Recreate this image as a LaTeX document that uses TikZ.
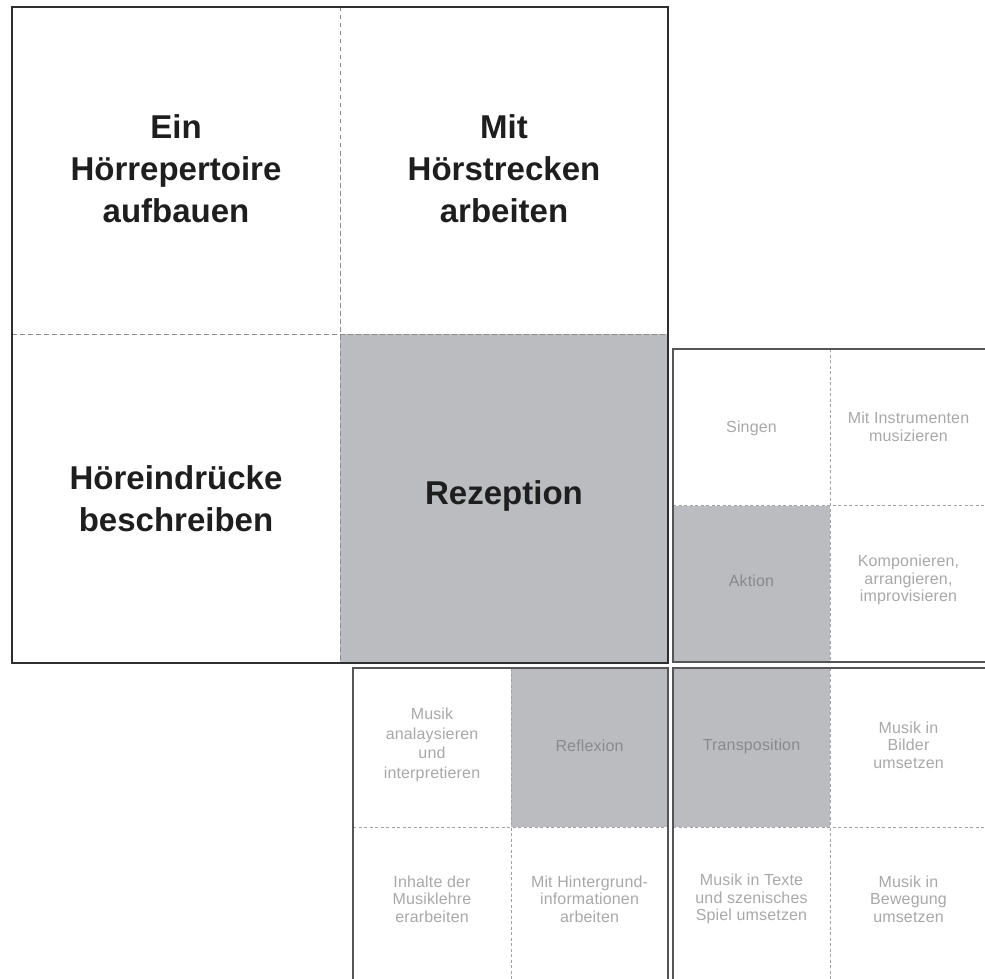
\documentclass[tikz,border=0pt]{standalone}
\usepackage{fontspec}
\setmainfont{Liberation Sans}
\newfontfamily\bigfont{Liberation Sans}
\newfontfamily\smallfont[LetterSpace=1]{Liberation Sans}
\definecolor{cellgray}{HTML}{BBBCC0}
\definecolor{bigframecol}{HTML}{2E2E2E}
\definecolor{smallframecol}{HTML}{555555}
\definecolor{dashcol}{HTML}{8A8A8A}
\definecolor{lighttext}{HTML}{A8A8A8}
\definecolor{shadetext}{HTML}{8A8A8D}
\definecolor{bigtextcol}{HTML}{1E1E1E}
\begin{document}
\begin{tikzpicture}[x=1pt,y=-1pt,
  bigtext/.style={font=\bigfont\bfseries\fontsize{33}{42}\selectfont, align=center, text=bigtextcol, inner sep=0pt},
  smalltext/.style={font=\smallfont\fontsize{16}{17.5}\selectfont, align=center, text=lighttext, inner sep=0pt},
  shadedtext/.style={smalltext, text=shadetext},
  bigdash/.style={draw=dashcol, line width=0.8pt, dash pattern=on 4.5pt off 3.5pt},
  smalldash/.style={draw=dashcol!80, line width=0.6pt, dash pattern=on 3pt off 2.5pt},
  bigframe/.style={draw=bigframecol, line width=1.8pt},
  smallframe/.style={draw=smallframecol, line width=1.1pt},
  shade/.style={fill=cellgray}
]
\useasboundingbox (0,0) rectangle (985,979);
\clip (0,0) rectangle (985,979);

% shaded cells
\fill[shade] (340,334) rectangle (668,663);
\fill[shade] (673,505.5) rectangle (830,662);
\fill[shade] (511,668) rectangle (668,827);
\fill[shade] (673,668) rectangle (830,827);

% dashed dividers
\draw[bigdash] (340,7) -- (340,663);
\draw[bigdash] (12,334) -- (668,334);
\draw[smalldash] (830,349) -- (830,662);
\draw[smalldash] (673,505.5) -- (990,505.5);
\draw[smalldash] (511,668) -- (511,990);
\draw[smalldash] (353,827) -- (668,827);
\draw[smalldash] (830,668) -- (830,990);
\draw[smalldash] (673,827) -- (990,827);

% frames
\draw[bigframe] (12,7) rectangle (668,663);
\draw[smallframe] (673,349) rectangle (990,662);
\draw[smallframe] (353,668) rectangle (668,995);
\draw[smallframe] (673,668) rectangle (990,995);

% big square texts
\node[bigtext] (ein) at (176,169) {Ein\\Hörrepertoire\\aufbauen};
\node[bigtext] (mit) at (504,169) {Mit\\Hörstrecken\\arbeiten};
\node[bigtext] (hoer) at (176,499) {Höreindrücke\\beschreiben};
\node[bigtext] (rez) at (504,495.5) {Rezeption};

% Aktion block
\node[smalltext] (singen) at (751.5,428) {Singen};
\node[smalltext] (instr) at (908.5,427) {Mit Instrumenten\\musizieren};
\node[shadedtext] (aktion) at (751.5,581) {Aktion};
\node[smalltext] (komp) at (908.5,580) {Komponieren,\\arrangieren,\\improvisieren};

% Reflexion block
\node[smalltext, font=\smallfont\fontsize{16}{19.5}\selectfont] (analyse) at (432,745) {Musik\\analaysieren\\und\\interpretieren};
\node[shadedtext] (reflexion) at (589.5,746) {Reflexion};
\node[smalltext] (inhalte) at (432,899) {Inhalte der\\Musiklehre\\erarbeiten};
\node[smalltext] (hinter) at (589.5,899) {Mit Hintergrund-\\informationen\\arbeiten};

% Transposition block
\node[shadedtext] (transp) at (751.5,746) {Transposition};
\node[smalltext] (bilder) at (908.5,745) {Musik in\\Bilder\\umsetzen};
\node[smalltext] (texte) at (751.5,899) {Musik in Texte\\und szenisches\\Spiel umsetzen};
\node[smalltext] (beweg) at (908.5,899) {Musik in\\Bewegung\\umsetzen};
\end{tikzpicture}
\end{document}
